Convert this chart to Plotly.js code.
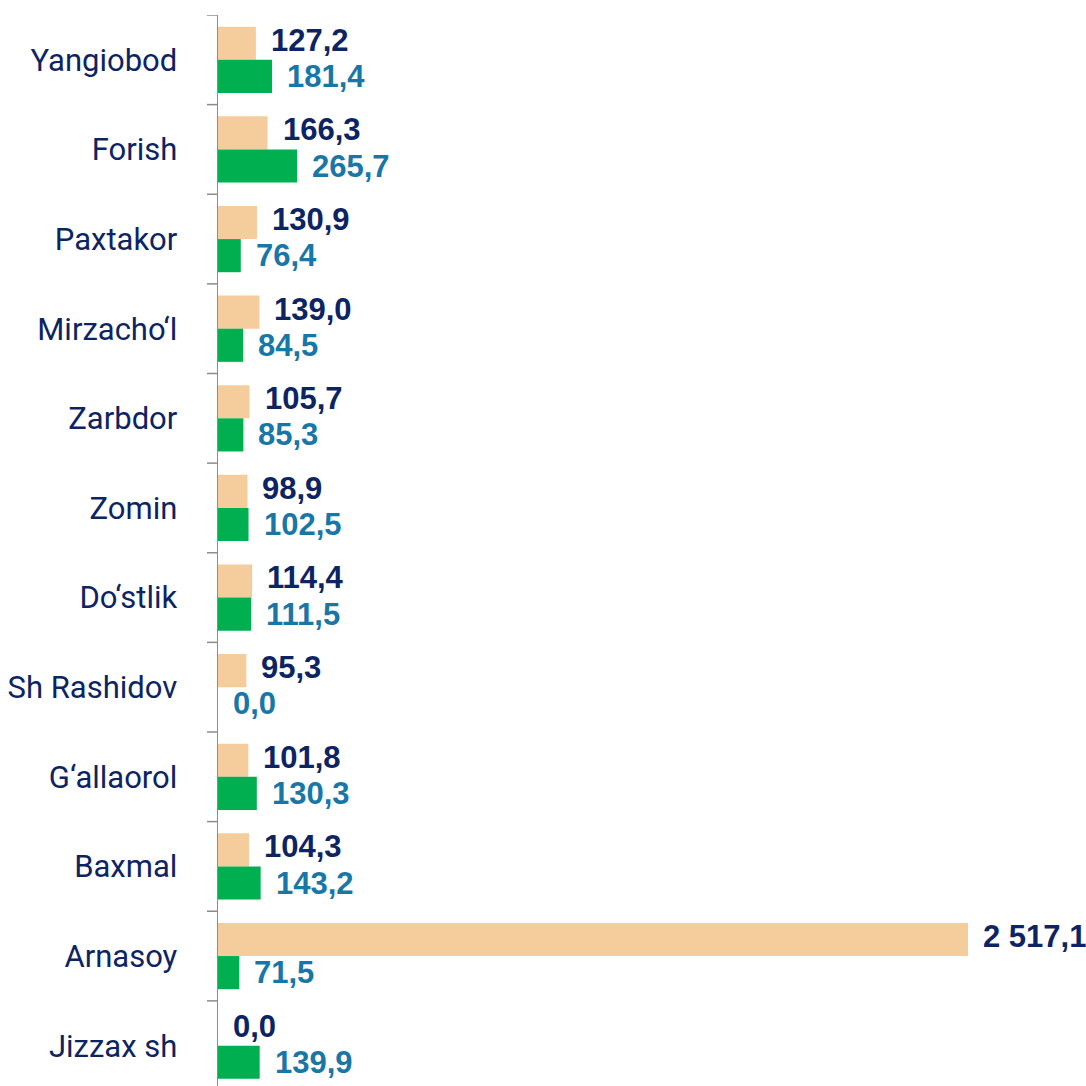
<!DOCTYPE html>
<html>
<head>
<meta charset="utf-8">
<script src="https://cdn.plot.ly/plotly-3.0.1.min.js"></script>
<style>
html, body { margin: 0; padding: 0; background: #ffffff; }
#chart { width: 1086px; height: 1086px; }
</style>
</head>
<body>
<div id="chart"></div>
<script>
// Data
var districts = ["Yangiobod", "Forish", "Paxtakor", "Mirzacho‘l", "Zarbdor", "Zomin", "Do‘stlik", "Sh Rashidov", "G‘allaorol", "Baxmal", "Arnasoy", "Jizzax sh"];
var seriesA = [127.2, 166.3, 130.9, 139.0, 105.7, 98.9, 114.4, 95.3, 101.8, 104.3, 2517.1, 0.0];
var seriesB = [181.4, 265.7, 76.4, 84.5, 85.3, 102.5, 111.5, 0.0, 130.3, 143.2, 71.5, 139.9];

function fmt(v) {
  var parts = v.toFixed(1).split(".");
  var intPart = parts[0].replace(/\B(?=(\d{3})+(?!\d))/g, " ");
  return intPart + "," + parts[1];
}

var colorA = "#F5CC9B";
var colorB = "#00B050";
var labelA = "#0D2463";
var labelB = "#1877A6";

var bargap = 0.26;
var half = (1 - bargap) / 4;

var traceA = {
  type: "bar", orientation: "h",
  y: districts.map(function (d, i) { return i; }),
  x: seriesA,
  marker: { color: colorA, line: { width: 0 } },
  hoverinfo: "none"
};
var traceB = {
  type: "bar", orientation: "h",
  y: districts.map(function (d, i) { return i; }),
  x: seriesB,
  marker: { color: colorB, line: { width: 0 } },
  hoverinfo: "none"
};

var annotations = [];
districts.forEach(function (d, i) {
  annotations.push({
    x: seriesA[i], y: i - half, xref: "x", yref: "y",
    text: fmt(seriesA[i]), showarrow: false,
    xanchor: "left", yanchor: "middle", xshift: 13, yshift: 3,
    font: { family: "Liberation Sans, Arial, sans-serif", size: 31, color: labelA, weight: "bold" }
  });
  annotations.push({
    x: seriesB[i], y: i + half, xref: "x", yref: "y",
    text: fmt(seriesB[i]), showarrow: false,
    xanchor: "left", yanchor: "middle", xshift: 13, yshift: 0,
    font: { family: "Liberation Sans, Arial, sans-serif", size: 31, color: labelB, weight: "bold" }
  });
});

var layout = {
  width: 1086, height: 1086,
  margin: { l: 218, r: 0, t: 15, b: 0 },
  paper_bgcolor: "#ffffff", plot_bgcolor: "#ffffff",
  barmode: "group", bargap: bargap, bargroupgap: 0,
  showlegend: false,
  xaxis: {
    range: [0, 2913],
    showgrid: false, zeroline: false, showline: false,
    showticklabels: false, ticks: ""
  },
  yaxis: {
    range: [11.45, -0.5],
    tickmode: "array",
    tickvals: districts.map(function (d, i) { return i; }),
    ticktext: districts,
    showgrid: false, zeroline: false,
    showline: true, linecolor: "#8C8C8C", linewidth: 1.5,
    ticks: "",
    ticklabelstandoff: 33,
    tickfont: { family: "Roboto, sans-serif", size: 31, color: labelA }
  },
  shapes: districts.map(function (d, i) {
    return {
      type: "line", xref: "paper", yref: "y",
      x0: -0.0127, x1: 0, y0: i - 0.5, y1: i - 0.5,
      line: { color: "#8C8C8C", width: 1.5 }
    };
  }),
  annotations: annotations
};

Plotly.newPlot("chart", [traceA, traceB], layout, { displayModeBar: false, staticPlot: true });
</script>
</body>
</html>
